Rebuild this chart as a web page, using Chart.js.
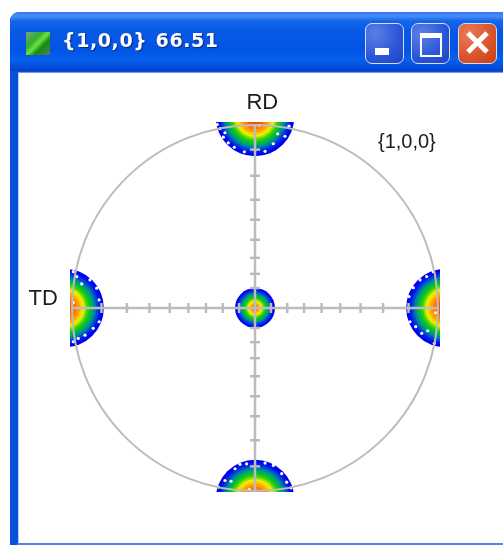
<!DOCTYPE html>
<html>
<head>
<meta charset="utf-8">
<script src="https://cdn.jsdelivr.net/npm/chart.js@4"></script>
<style>
html,body{margin:0;padding:0;background:#fff;width:503px;height:545px;overflow:hidden}
#win{position:absolute;left:10px;top:12px;width:493px;height:533px;background:#0a4fdc;border-top-left-radius:9px;overflow:hidden}
#bar{position:absolute;left:0;top:0;right:0;height:59px;background:linear-gradient(#2f78ee 0,#4a8cf4 4px,#1466ea 9px,#0758e4 20px,#0254e4 38px,#0560ee 47px,#0450dc 54px,#0340c4 59px)}
#client{position:absolute;left:8px;top:60px;right:0;bottom:2px;background:#fff;border-left:1px solid #b7ccf8;border-top:1px solid #6f9bf2}
#bottom{position:absolute;left:7px;right:0;bottom:0;height:2px;background:#4f83ec}
#title{position:absolute;left:62px;top:29px;color:#fff;font:bold 19px "DejaVu Sans",sans-serif;letter-spacing:.6px;text-shadow:1px 1px 1px #0a2a80;white-space:nowrap;word-spacing:1px;filter:blur(.4px)}
#icon{position:absolute;left:26px;top:32px;width:24px;height:23px;background:linear-gradient(135deg,#7f9f7f 0,#30b030 35%,#70e040 50%,#109010 65%,#607860 100%)}
.btn{position:absolute;top:23px;height:39px;width:37px;border:1.5px solid #d5def7;border-radius:7px;background:radial-gradient(circle at 25% 25%,#5d80e6,#2a55d8 60%,#1f44c8)}
.close{background:radial-gradient(circle at 25% 25%,#e87a58,#d9532a 60%,#c83c10)}
.w{position:absolute;background:#fff}
#chart{position:absolute;left:0;top:0;filter:blur(.5px)}
</style>
</head>
<body>
<div id="win"><div id="bar"></div><div id="client"></div><div id="bottom"></div></div>
<div id="icon"></div>
<div id="title">{1,0,0} 66.51</div>
<div class="btn" style="left:365px"><div class="w" style="left:9px;top:24px;width:14px;height:7px"></div></div>
<div class="btn" style="left:411px"><div style="position:absolute;left:8px;top:9px;width:18px;height:17px;border:2px solid #fff;border-top-width:5px"></div></div>
<div class="btn close" style="left:458px"><div class="w" style="left:5px;top:16px;width:27px;height:5px;transform:rotate(45deg)"></div><div class="w" style="left:5px;top:16px;width:27px;height:5px;transform:rotate(-45deg)"></div></div>
<canvas id="chart" width="503" height="545"></canvas>
<script>
// Pole figure in projection units: the outer circle has radius 1.
const circleCentre = [{x: 0, y: 0}];
const xAxisEnds = [{x: -1, y: 0}, {x: 1, y: 0}];
const yAxisEnds = [{x: 0, y: -1}, {x: 0, y: 1}];
const xTickValues = [-0.839, -0.700, -0.577, -0.466, -0.364, -0.268, -0.176, -0.087, 0.087, 0.176, 0.268, 0.364, 0.466, 0.577, 0.700, 0.839];
const yTickValues = [-0.863, -0.721, -0.590, -0.481, -0.372, -0.273, -0.186, -0.109, 0.109, 0.186, 0.273, 0.372, 0.481, 0.590, 0.721, 0.863];

// Contour levels, lowest intensity first.
const levelColours = ['#0000f0', '#0018e8', '#0048d0', '#0080a8', '#00a868', '#00c030', '#30d010', '#90e000', '#e8f000', '#ffd000', '#ffa000', '#ff7800', '#ff5000'];
const rimPoles = [{x: 0, y: 1.04}, {x: 0, y: -1.04}, {x: -1.04, y: 0}, {x: 1.04, y: 0}];
const rimLevelSizes = [0.214, 0.200, 0.186, 0.172, 0.158, 0.148, 0.134, 0.120, 0.109, 0.098, 0.085, 0.068, 0.049];
const centrePole = {x: 0, y: 0};
const centreLevelSizes = [0.109, 0.101, 0.093, 0.082, 0.074, 0.066, 0.057, 0.049, 0.041, 0.033, 0.025, 0.016, 0.008];

// White gaps in the contour lines.
const gapsTop = [[-.206,1.0],[-.191,.978],[-.164,.955],[-.173,.931],[-.146,.900],[-.113,.876],[-.058,.851],[.055,.854],[.100,.895],[.124,.949],[.164,.936],[.186,.991],[.024,.996]];
const gapsLeft = [[-.993,.198],[-.974,.171],[-.947,.131],[-.902,.153],[-.865,.108],[-.852,.044],[-.852,-.075],[-.884,-.111],[-.929,-.148],[-.966,-.166],[-.993,-.184],[-.993,.029]];
const gapsBottom = [[-.200,-.976],[-.164,-.940],[-.131,-.944],[-.109,-.876],[-.082,-.852],[-.046,-.849],[.055,-.845],[.100,-.858],[.146,-.903],[.173,-.949],[.197,-.980],[-.031,-.989]];
const gapsRight = [[.974,.198],[.938,.171],[.902,.153],[.865,.111],[.842,.062],[.842,-.002],[.847,-.075],[.878,-.102],[.911,-.138],[.944,-.124],[.980,-.193],[.987,-.026]];

const axisTexts = [
  {text: 'RD', x: 0.04, y: 1.115, font: '22px "Liberation Sans"'},
  {text: 'TD', x: -1.158, y: 0.05, font: '22px "Liberation Sans"'},
  {text: '{1,0,0}', x: 0.83, y: 0.90, font: '20px "Liberation Sans"'}
];

const xLimits = {min: -1.011, max: 1.011};
const yLimits = {min: -1.0027, max: 1.0136};
const UNIT_PX = 183;
const GRAY = '#bcbcbc';

const layers = [];
levelColours.forEach((colour, i) => {
  const points = rimPoles.map(p => ({x: p.x, y: p.y, size: rimLevelSizes[i]}));
  points.push({x: centrePole.x, y: centrePole.y, size: centreLevelSizes[i]});
  layers.push({
    label: 'level ' + (i + 1),
    data: points,
    backgroundColor: colour,
    borderWidth: 0,
    pointRadius: c => c.raw.size * UNIT_PX,
    pointHoverRadius: c => c.raw.size * UNIT_PX,
    clip: 0
  });
});
layers.push({
  label: 'contour gaps',
  data: [...gapsTop, ...gapsLeft, ...gapsBottom, ...gapsRight].map(g => ({x: g[0], y: g[1]})),
  backgroundColor: '#ffffff',
  borderWidth: 0,
  pointRadius: 1.6,
  clip: 0
});
layers.push({label: 'rim', data: circleCentre, backgroundColor: 'transparent', borderColor: GRAY, borderWidth: 2, pointRadius: UNIT_PX, clip: false});
layers.push({label: 'x axis', data: xAxisEnds, showLine: true, borderColor: GRAY, borderWidth: 2.5, pointRadius: 0, clip: false});
layers.push({label: 'y axis', data: yAxisEnds, showLine: true, borderColor: GRAY, borderWidth: 2.5, pointRadius: 0, clip: false});
layers.push({label: 'x ticks', data: xTickValues.map(v => ({x: v, y: 0})), pointStyle: 'line', rotation: 90, pointRadius: 5, borderColor: GRAY, borderWidth: 2.5, clip: false});
layers.push({label: 'y ticks', data: yTickValues.map(v => ({x: 0, y: v})), pointStyle: 'line', rotation: 0, pointRadius: 5, borderColor: GRAY, borderWidth: 2.5, clip: false});

const textPlugin = {
  id: 'poleText',
  afterDraw(chart) {
    const ctx = chart.ctx;
    ctx.save();
    ctx.fillStyle = '#1c1c1c';
    ctx.textAlign = 'center';
    ctx.textBaseline = 'middle';
    axisTexts.forEach(t => {
      ctx.font = t.font;
      ctx.fillText(t.text, chart.scales.x.getPixelForValue(t.x), chart.scales.y.getPixelForValue(t.y));
    });
    ctx.restore();
  }
};

new Chart(document.getElementById('chart'), {
  type: 'scatter',
  data: {datasets: layers.reverse()},
  options: {
    responsive: false,
    animation: false,
    devicePixelRatio: 1,
    layout: {autoPadding: false, padding: {left: 70, right: 63, top: 122, bottom: 53}},
    plugins: {legend: {display: false}, tooltip: {enabled: false}, title: {display: false}},
    scales: {
      x: {type: 'linear', display: false, min: xLimits.min, max: xLimits.max},
      y: {type: 'linear', display: false, min: yLimits.min, max: yLimits.max}
    }
  },
  plugins: [textPlugin]
});
</script>
</body>
</html>
